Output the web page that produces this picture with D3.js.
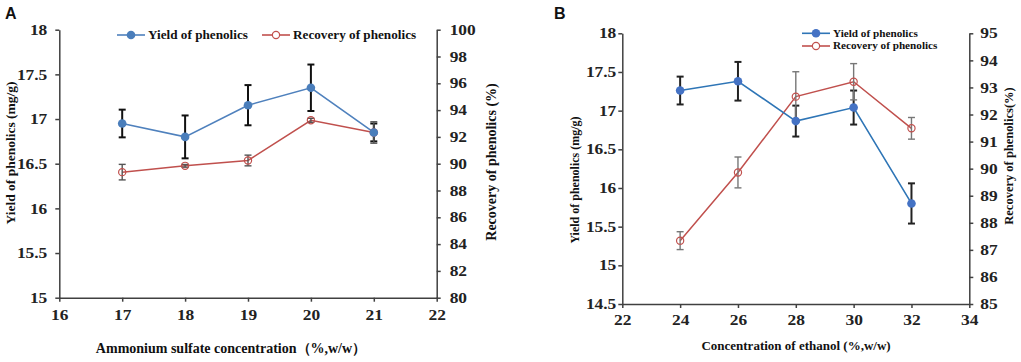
<!DOCTYPE html>
<html>
<head>
<meta charset="utf-8">
<script src="https://cdn.jsdelivr.net/npm/d3@7"></script>
<style>
  body { margin: 0; background: #fff; }
  svg { display: block; }
  text { font-family: "Liberation Serif", "Times New Roman", serif; }
  .tick text { font-weight: bold; font-size: 14.5px; fill: #222; transform-box: fill-box; }
  .ax path, .ax line { stroke: #404040; stroke-width: 1.5; }
  .lbl { font-weight: bold; fill: #111; }
</style>
</head>
<body>
<svg id="chart" width="1021" height="362"></svg>
<script>
// panel A : ammonium sulfate
const concA = [17, 18, 19, 20, 21]
const yieldA = [16.95, 16.80, 17.155, 17.35, 16.85]
const yieldErrA = [0.155, 0.24, 0.225, 0.26, 0.10]
const recovA = [89.37, 89.84, 90.24, 93.24, 92.33]
const recovErrA = [0.58, 0.10, 0.40, 0.15, 0.80]

// panel B : ethanol
const concB = [24, 26, 28, 30, 32]
const yieldB = [17.26, 17.38, 16.865, 17.04, 15.80]
const yieldErrB = [0.18, 0.25, 0.20, 0.22, 0.26]
const recovB = [87.34, 89.86, 92.66, 93.21, 91.49]
const recovErrB = [0.33, 0.57, 0.92, 0.67, 0.40]

const ticksXA = [16, 17, 18, 19, 20, 21, 22]
const ticksYLA = [15, 15.5, 16, 16.5, 17, 17.5, 18]
const ticksYRA = [80, 82, 84, 86, 88, 90, 92, 94, 96, 98, 100]
const ticksXB = [22, 24, 26, 28, 30, 32, 34]
const ticksYLB = [14.5, 15, 15.5, 16, 16.5, 17, 17.5, 18]
const ticksYRB = [85, 86, 87, 88, 89, 90, 91, 92, 93, 94, 95]

const serif = '"Liberation Serif", "Times New Roman", serif'
const svg = d3.select('#chart')
const fmt = d3.format('')

function stretch(sel, origin, k) {
  sel.style('transform-box', 'fill-box').style('transform-origin', origin)
    .style('transform', 'scaleX(' + (k || 1.2) + ')')
}

function panel(cfg) {
  const g = svg.append('g')
  const x = d3.scaleLinear().domain(cfg.xDom).range(cfg.xRange)
  const yl = d3.scaleLinear().domain(cfg.ylDom).range(cfg.yRange)
  const yr = d3.scaleLinear().domain(cfg.yrDom).range(cfg.yRange)

  const bottom = g.append('g').attr('class', 'ax')
    .attr('transform', 'translate(0,' + cfg.yRange[0] + ')')
    .call(d3.axisBottom(x).tickValues(cfg.xTicks).tickFormat(fmt).tickSize(4).tickPadding(cfg.xPad).tickSizeOuter(0))
    .attr('font-family', serif)
  stretch(bottom.selectAll('text'), '50% 50%')

  const left = g.append('g').attr('class', 'ax')
    .attr('transform', 'translate(' + cfg.xRange[0] + ',0)')
    .call(d3.axisLeft(yl).tickValues(cfg.ylTicks).tickFormat(fmt).tickSize(4).tickPadding(cfg.lPad).tickSizeOuter(0))
    .attr('font-family', serif)
  stretch(left.selectAll('text'), '100% 50%')

  const right = g.append('g').attr('class', 'ax')
    .attr('transform', 'translate(' + cfg.xRange[1] + ',0)')
    .call(d3.axisRight(yr).tickValues(cfg.yrTicks).tickFormat(fmt).tickSize(4).tickPadding(cfg.rPad).tickSizeOuter(0))
    .attr('font-family', serif)
  stretch(right.selectAll('text'), '0% 50%')

  // recovery series (right axis) drawn first
  const rec = cfg.conc.map((c, i) => ({ x: c, y: cfg.recov[i], e: cfg.recovErr[i] }))
  const yld = cfg.conc.map((c, i) => ({ x: c, y: cfg.yield[i], e: cfg.yieldErr[i] }))

  const line = (ys) => d3.line().x(d => x(d.x)).y(d => ys(d.y))

  g.append('path').datum(rec).attr('d', line(yr))
    .attr('fill', 'none').attr('stroke', '#C0504D').attr('stroke-width', 1.5)
  g.append('path').datum(yld).attr('d', line(yl))
    .attr('fill', 'none').attr('stroke', cfg.blueLine).attr('stroke-width', 1.6)

  function errBars(data, ys, color, w) {
    const eg = g.append('g').attr('stroke', color).attr('stroke-width', w)
    data.forEach(function (d) {
      const cx = x(d.x), t = ys(d.y + d.e), b = ys(d.y - d.e)
      eg.append('line').attr('x1', cx).attr('x2', cx).attr('y1', t).attr('y2', b)
      eg.append('line').attr('x1', cx - 3.5).attr('x2', cx + 3.5).attr('y1', t).attr('y2', t)
      eg.append('line').attr('x1', cx - 3.5).attr('x2', cx + 3.5).attr('y1', b).attr('y2', b)
    })
  }
  errBars(yld, yl, cfg.yErrColor, 2)
  errBars(rec, yr, cfg.rErrColor, 1.4)

  g.selectAll('.mr').data(rec).join('circle')
    .attr('cx', d => x(d.x)).attr('cy', d => yr(d.y)).attr('r', 3.6)
    .attr('fill', 'none').attr('stroke', '#C0504D').attr('stroke-width', 1.2)
  g.selectAll('.my').data(yld).join('circle')
    .attr('cx', d => x(d.x)).attr('cy', d => yl(d.y)).attr('r', 4.3)
    .attr('fill', cfg.blueDot)

  // titles
  g.append('text').attr('class', 'lbl').attr('text-anchor', 'middle')
    .attr('x', cfg.xt[0]).attr('y', cfg.xt[1]).attr('font-size', cfg.xt[2])
    .text(cfg.xTitle)
  g.append('text').attr('class', 'lbl').attr('text-anchor', 'middle')
    .attr('transform', 'translate(' + cfg.lt[0] + ',' + cfg.lt[1] + ') rotate(-90)')
    .attr('font-size', cfg.lt[2]).text(cfg.lTitle)
  g.append('text').attr('class', 'lbl').attr('text-anchor', 'middle')
    .attr('transform', 'translate(' + cfg.rt[0] + ',' + cfg.rt[1] + ') rotate(-90)')
    .attr('font-size', cfg.rt[2]).text(cfg.rTitle)

  g.append('text').attr('x', cfg.tag[0]).attr('y', cfg.tag[1])
    .style('font-family', 'Liberation Sans, Arial, sans-serif').attr('font-weight', 'bold')
    .attr('font-size', 16).attr('fill', '#111').text(cfg.tagText)

  // legend
  cfg.legend.forEach(function (l) {
    const lg = g.append('g').attr('transform', 'translate(' + l.x + ',' + l.y + ')')
    lg.append('line').attr('x1', 0).attr('x2', 28).attr('stroke', l.color).attr('stroke-width', 1.6)
    if (l.open) {
      lg.append('circle').attr('cx', 14).attr('r', 3.6).attr('fill', '#fff')
        .attr('stroke', l.color).attr('stroke-width', 1.2)
    } else {
      lg.append('circle').attr('cx', 14).attr('r', 4.3).attr('fill', l.dot)
    }
    const t = lg.append('text').attr('class', 'lbl').attr('x', 31).attr('dy', '0.33em')
      .attr('font-size', l.size).text(l.text)
    stretch(t, '0% 50%', l.k)
  })
}

panel({
  xDom: [16, 22], xRange: [59.3, 436.7],
  ylDom: [15, 18], yrDom: [80, 100], yRange: [297.7, 29.7],
  xTicks: ticksXA, ylTicks: ticksYLA, yrTicks: ticksYRA,
  xPad: 8, lPad: 8, rPad: 9,
  conc: concA, yield: yieldA, yieldErr: yieldErrA, recov: recovA, recovErr: recovErrA,
  blueLine: '#4F81BD', blueDot: '#4A7EBB', yErrColor: '#111', rErrColor: '#555',
  xTitle: 'Ammonium sulfate concentration（%,w/w）', xt: [231, 353, 14],
  lTitle: 'Yield of phenolics (mg/g)', lt: [15, 153, 13.5],
  rTitle: 'Recovery of phenolics (%)', rt: [496, 162, 14],
  tag: [5, 19], tagText: 'A',
  legend: [
    { x: 117, y: 35, color: '#4F81BD', dot: '#4A7EBB', text: 'Yield of phenolics', size: 12, k: 1.1 },
    { x: 262, y: 35, color: '#C0504D', open: true, text: 'Recovery of phenolics', size: 12, k: 1.1 }
  ]
})

panel({
  xDom: [22, 34], xRange: [622.3, 969.3],
  ylDom: [14.5, 18], yrDom: [85, 95], yRange: [304, 33.3],
  xTicks: ticksXB, ylTicks: ticksYLB, yrTicks: ticksYRB,
  xPad: 7, lPad: 2, rPad: 7,
  conc: concB, yield: yieldB, yieldErr: yieldErrB, recov: recovB, recovErr: recovErrB,
  blueLine: '#2E75B6', blueDot: '#4472C4', yErrColor: '#222', rErrColor: '#777',
  xTitle: 'Concentration of ethanol (%,w/w)', xt: [796, 350, 13],
  lTitle: 'Yield of phenolics (mg/g)', lt: [579, 180, 12],
  rTitle: 'Recovery of phenolics(%)', rt: [1013, 156, 12.5],
  tag: [554, 19], tagText: 'B',
  legend: [
    { x: 802, y: 33.3, color: '#2E75B6', dot: '#4472C4', text: 'Yield of phenolics', size: 10, k: 1.12 },
    { x: 802, y: 46, color: '#C0504D', open: true, text: 'Recovery of phenolics', size: 10, k: 1.12 }
  ]
})
</script>
</body>
</html>
